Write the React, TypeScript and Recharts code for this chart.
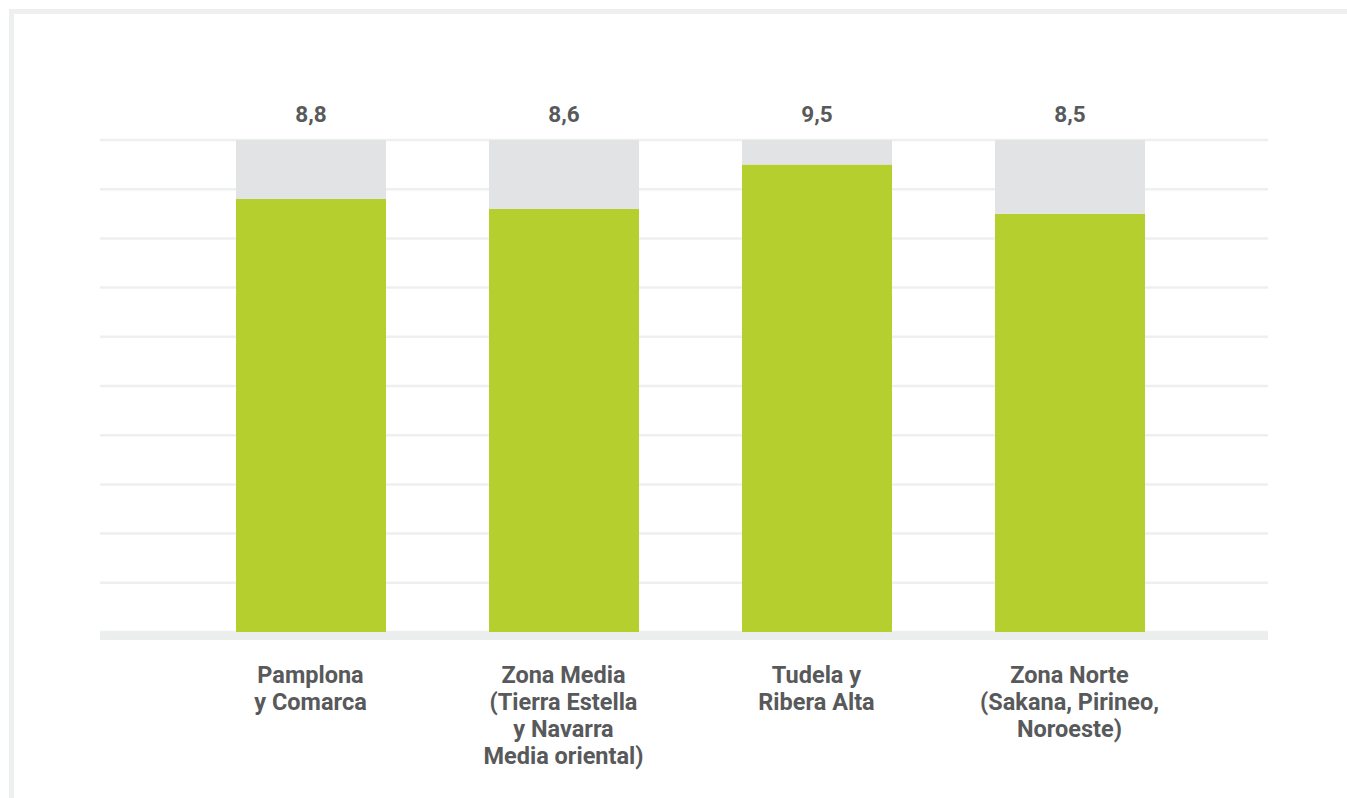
import { Bar, BarChart, CartesianGrid, LabelList, XAxis, YAxis } from 'recharts';

const regions = [
  'Pamplona y Comarca',
  'Zona Media (Tierra Estella y Navarra Media oriental)',
  'Tudela y Ribera Alta',
  'Zona Norte (Sakana, Pirineo, Noroeste)',
];

const tickLines = [
  ['Pamplona', 'y Comarca'],
  ['Zona Media', '(Tierra Estella', 'y Navarra', 'Media oriental)'],
  ['Tudela y', 'Ribera Alta'],
  ['Zona Norte', '(Sakana, Pirineo,', 'Noroeste)'],
];

const scores = [8.8, 8.6, 9.5, 8.5];
const scaleMax = 10;
const yTicks = [0, 1, 2, 3, 4, 5, 6, 7, 8, 9, 10];

const data = regions.map((region, i) => ({
  region,
  score: scores[i],
  rest: +(scaleMax - scores[i]).toFixed(1),
}));

const TEXT = '#58595b';
const FONT = 'Roboto, "Noto Sans", sans-serif';

function RegionTick({ x, y, payload }: any) {
  const idx = regions.indexOf(payload.value);
  const lines = tickLines[idx] || [payload.value];
  return (
    <text
      x={x}
      y={y + 51}
      textAnchor="middle"
      fill={TEXT}
      fontFamily={FONT}
      fontWeight={700}
      fontSize={23.5}
    >
      {lines.map((line, i) => (
        <tspan key={i} x={x} dy={i === 0 ? 0 : 27}>
          {line}
        </tspan>
      ))}
    </text>
  );
}

export default function App() {
  return (
    <div
      style={{
        position: 'fixed',
        left: 9,
        top: 9,
        right: 0,
        bottom: 0,
        boxSizing: 'border-box',
        borderTop: '5px solid #eeefef',
        borderLeft: '5px solid #eeefef',
        background: '#fff',
        overflow: 'hidden',
      }}
    >
      <BarChart
        width={1333}
        height={784}
        data={data}
        margin={{ top: 126, right: 79, left: 86, bottom: 0 }}
        barSize={150}
      >
        <CartesianGrid vertical={false} stroke="#eeefef" strokeWidth={2.5} />
        <YAxis hide domain={[0, scaleMax]} ticks={yTicks} />
        <XAxis
          dataKey="region"
          height={166}
          interval={0}
          tickLine={false}
          tickSize={0}
          tickMargin={0}
          padding={{ left: 84, right: 72 }}
          axisLine={{ stroke: '#eceeee', strokeWidth: 8, transform: 'translate(0,4)' }}
          tick={<RegionTick />}
        />
        <Bar dataKey="score" stackId="a" fill="#b5cf2f" isAnimationActive={false} />
        <Bar dataKey="rest" stackId="a" fill="#e2e3e5" isAnimationActive={false}>
          <LabelList
            dataKey="score"
            position="top"
            offset={18}
            fill={TEXT}
            fontFamily={FONT}
            fontWeight={700}
            fontSize={22.5}
            formatter={(v: any) => String(v).replace('.', ',')}
          />
        </Bar>
      </BarChart>
    </div>
  );
}
